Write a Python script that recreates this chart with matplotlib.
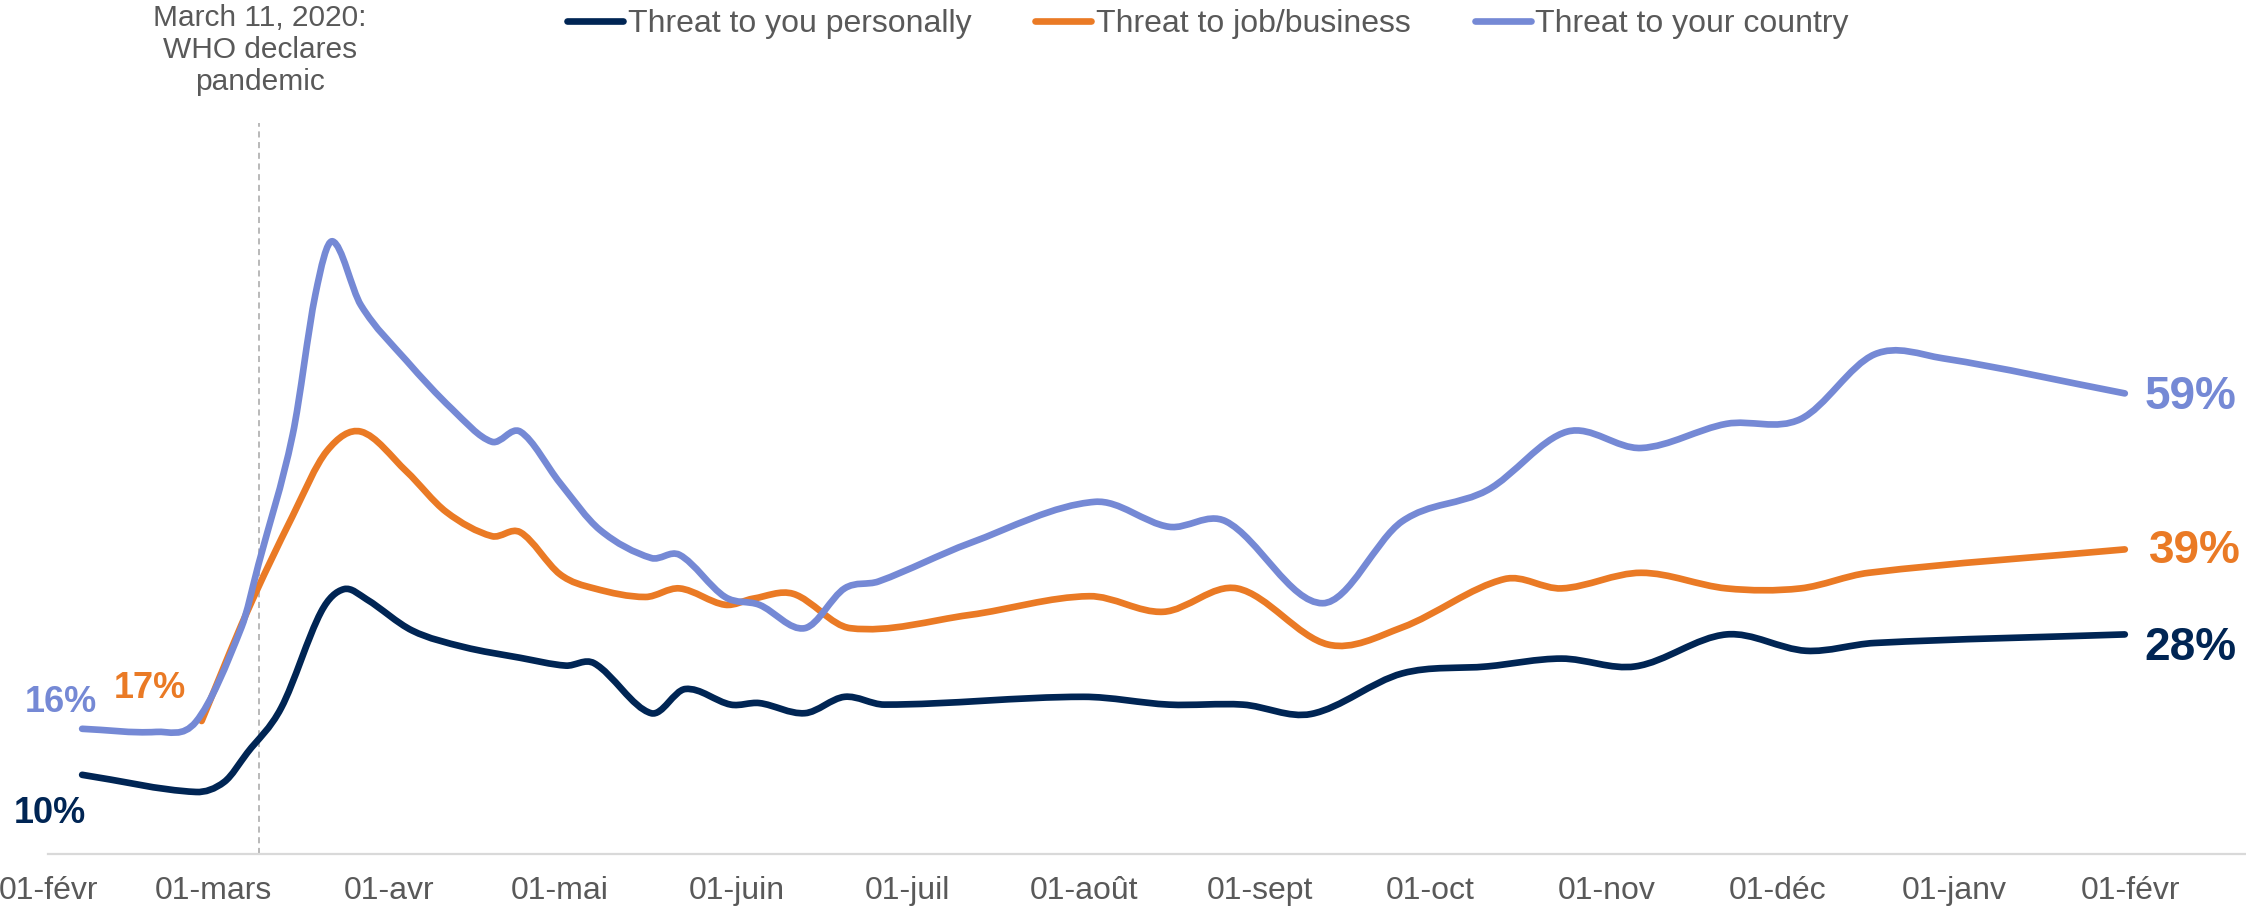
import matplotlib
matplotlib.use("Agg")
import matplotlib.pyplot as plt
import matplotlib.dates as mdates
from matplotlib.path import Path
from matplotlib.patches import PathPatch
from matplotlib.lines import Line2D
import pandas as pd

plt.rcParams['font.family'] = ['Liberation Sans', 'DejaVu Sans']

#----------------- data (share of respondents, %)
personal_dates = ['2020-02-07', '2020-02-27', '2020-03-03', '2020-03-07', '2020-03-13',
                  '2020-03-20', '2020-03-24', '2020-03-28', '2020-04-05', '2020-04-14',
                  '2020-04-24', '2020-05-02', '2020-05-07', '2020-05-17', '2020-05-23',
                  '2020-05-31', '2020-06-05', '2020-06-13', '2020-06-20', '2020-06-27',
                  '2020-08-01', '2020-08-16', '2020-08-29', '2020-09-10', '2020-09-26',
                  '2020-10-11', '2020-10-24', '2020-11-06', '2020-11-22', '2020-12-06',
                  '2020-12-18', '2021-01-31']
personal_vals = [10.1, 7.9, 9.2, 12.9, 18.7, 31.0, 33.9, 32.6, 28.6, 26.5,
                 25.1, 24.1, 24.4, 18.0, 21.1, 19.1, 19.3, 18.0, 20.1, 19.1,
                 20.1, 19.1, 19.1, 17.9, 23.1, 24.0, 25.0, 24.0, 28.1, 26.0,
                 27.0, 28.1]

job_dates = ['2020-02-28', '2020-03-07', '2020-03-15', '2020-03-21', '2020-03-27',
             '2020-04-04', '2020-04-11', '2020-04-19', '2020-04-24', '2020-05-01',
             '2020-05-07', '2020-05-16', '2020-05-22', '2020-05-30', '2020-06-04',
             '2020-06-11', '2020-06-21', '2020-07-12', '2020-08-02', '2020-08-15',
             '2020-08-28', '2020-09-13', '2020-09-26', '2020-10-14', '2020-10-24',
             '2020-11-07', '2020-11-22', '2020-12-05', '2020-12-17', '2021-01-31']
job_vals = [17.0, 31.0, 43.3, 51.6, 54.1, 49.0, 43.8, 40.7, 41.2, 35.8,
            34.0, 32.9, 34.0, 31.9, 32.7, 33.3, 28.9, 30.6, 33.0, 31.0,
            34.0, 26.8, 29.0, 35.2, 34.0, 36.0, 34.0, 34.0, 36.0, 39.0]

country_dates = ['2020-02-07', '2020-02-20', '2020-02-27', '2020-03-06', '2020-03-09',
                 '2020-03-15', '2020-03-19', '2020-03-22', '2020-03-27', '2020-04-04',
                 '2020-04-12', '2020-04-19', '2020-04-24', '2020-05-01', '2020-05-08',
                 '2020-05-17', '2020-05-22', '2020-05-30', '2020-06-05', '2020-06-13',
                 '2020-06-20', '2020-06-26', '2020-07-12', '2020-08-03', '2020-08-16',
                 '2020-08-26', '2020-09-12', '2020-09-26', '2020-10-11', '2020-10-25',
                 '2020-11-07', '2020-11-22', '2020-12-05', '2020-12-18', '2020-12-30',
                 '2021-01-31']
country_vals = [16.0, 15.6, 16.9, 29.0, 37.1, 53.7, 71.7, 78.5, 70.3, 63.2,
                57.0, 52.8, 54.1, 47.5, 41.5, 37.9, 38.3, 32.9, 31.9, 28.9,
                34.0, 34.9, 39.8, 45.1, 41.9, 42.6, 32.1, 42.6, 46.6, 54.1,
                52.0, 55.1, 55.7, 64.0, 63.5, 59.0]

series_names = ['Threat to you personally', 'Threat to job/business', 'Threat to your country']
start_labels = ['10%', '17%', '16%']
end_labels = ['28%', '39%', '59%']

tick_dates = ['2020-02-01', '2020-03-01', '2020-04-01', '2020-05-01', '2020-06-01',
              '2020-07-01', '2020-08-01', '2020-09-01', '2020-10-01', '2020-11-01',
              '2020-12-01', '2021-01-01', '2021-02-01']
tick_labels = ['01-févr', '01-mars', '01-avr', '01-mai', '01-juin', '01-juil', '01-août',
               '01-sept', '01-oct', '01-nov', '01-déc', '01-janv', '01-févr']

pandemic_line_date = '2020-03-09'
pandemic_text = 'March 11, 2020:\nWHO declares\npandemic'

colors = ['#002554', '#EA7A25', '#7589D5']
grey_text = '#595959'


def smooth_path(xs, ys):
    """Smoothed line: cubic Bezier segments through every point, tangent = slope of neighbours."""
    n = len(xs)
    slopes = []
    for i in range(n):
        a = max(i - 1, 0)
        b = min(i + 1, n - 1)
        slopes.append((ys[b] - ys[a]) / (xs[b] - xs[a]))
    verts = [(xs[0], ys[0])]
    codes = [Path.MOVETO]
    for i in range(n - 1):
        h = (xs[i + 1] - xs[i]) / 3
        verts += [(xs[i] + h, ys[i] + slopes[i] * h),
                  (xs[i + 1] - h, ys[i + 1] - slopes[i + 1] * h),
                  (xs[i + 1], ys[i + 1])]
        codes += [Path.CURVE4] * 3
    return Path(verts, codes)


def to_num(dates):
    return mdates.date2num(pd.to_datetime(dates))


fig = plt.figure(figsize=(22.46, 9.11), dpi=100)
ax = fig.add_axes([48 / 2246, 57.4 / 911, 2198 / 2246, 780 / 911])

all_dates = [personal_dates, job_dates, country_dates]
all_vals = [personal_vals, job_vals, country_vals]
lw = 4.8

for dates, vals, col in zip(all_dates, all_vals, colors):
    xs = list(to_num(dates))
    patch = PathPatch(smooth_path(xs, vals), fill=False, edgecolor=col, lw=lw,
                      capstyle='round', joinstyle='round', zorder=3)
    ax.add_patch(patch)

# start / end value labels
start_offsets = [(-32, -39), (-52, 33), (-21, 26)]
for dates, vals, col, lab, off in zip(all_dates, all_vals, colors, start_labels, start_offsets):
    ax.annotate(lab, (to_num(dates[:1])[0], vals[0]), xytext=off, textcoords='offset pixels',
                ha='center', va='center', fontsize=26, fontweight='bold', color=col)

end_offsets = [(20, -14), (24, -2), (20, -4)]
for dates, vals, col, lab, off in zip(all_dates, all_vals, colors, end_labels, end_offsets):
    ax.annotate(lab, (to_num(dates[-1:])[0], vals[-1]), xytext=off, textcoords='offset pixels',
                ha='left', va='center', fontsize=33, fontweight='bold', color=col)

# pandemic marker
vx = to_num([pandemic_line_date])[0]
ax.axvline(vx, ymin=0, ymax=0.937, color='#a6a6a6', lw=1.1, ls=(0, (4, 3)), zorder=1)
fig.text(260 / 2246, 1 - 50 / 911, pandemic_text, ha='center', va='center',
         fontsize=21.5, color=grey_text, linespacing=1.17)

# axes styling
x0 = to_num(['2020-02-01'])[0]
ax.set_xlim(x0, x0 + 386.3)
ax.set_ylim(0, 100)
for side in ['top', 'right', 'left']:
    ax.spines[side].set_visible(False)
ax.spines['bottom'].set_color('#d9d9d9')
ax.spines['bottom'].set_linewidth(1.6)
ax.set_yticks([])
ax.set_xticks(to_num(tick_dates))
ax.set_xticklabels(tick_labels)
ax.tick_params(axis='x', length=0, pad=16, labelsize=23, labelcolor=grey_text)

handles = [Line2D([], [], color=c, lw=lw, solid_capstyle='round') for c in colors]
fig.legend(handles, series_names, loc='center', bbox_to_anchor=(1208 / 2246, 1 - 24 / 911),
           ncol=3, frameon=False, fontsize=23, labelcolor=grey_text,
           handlelength=1.75, handletextpad=0.15, columnspacing=2.0, borderpad=0)

fig.savefig('out.png', dpi=100)
